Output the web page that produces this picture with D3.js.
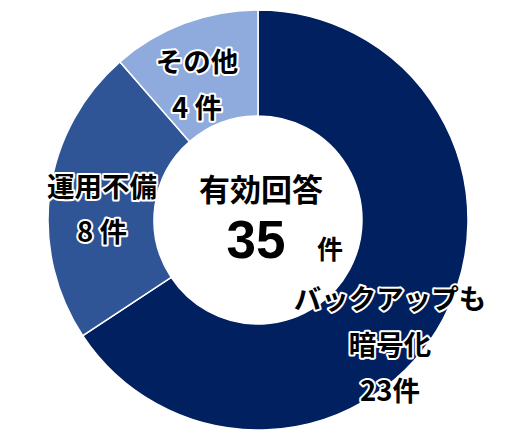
<!DOCTYPE html>
<html>
<head>
<meta charset="utf-8">
<script src="https://cdn.jsdelivr.net/npm/d3@7"></script>
<style>
  body { margin: 0; background: #fff; }
  text { font-family: "Noto Sans CJK JP", "Noto Sans", sans-serif; }
</style>
</head>
<body>
<div id="chart"></div>
<script>
// data
const categories = ["バックアップも暗号化", "運用不備", "その他"];
const values = [23, 8, 4];
const colors = ["#002060", "#2F5597", "#8FAADC"];
const totalLabel = "有効回答";

const width = 517, height = 443;
const cx = 258, cy = 220;
const outerR = 210, innerR = 104;

const svg = d3.select("#chart").append("svg")
  .attr("width", width)
  .attr("height", height);

const g = svg.append("g").attr("transform", `translate(${cx},${cy})`);

const pie = d3.pie().sort(null).value(d => d);
const arc = d3.arc().innerRadius(innerR).outerRadius(outerR);

g.selectAll("path")
  .data(pie(values))
  .enter()
  .append("path")
    .attr("d", arc)
    .attr("fill", (d, i) => colors[i])
    .attr("stroke", "white")
    .attr("stroke-width", 1.5);

// slice labels (lines of text, with a white halo)
const labelLines = [
  ["バックアップも", "暗号化", values[0] + "件"],
  ["運用不備", values[1] + " 件"],
  ["その他", values[2] + " 件"]
];
const labelPos = [
  { x: 390, y: 297, dy: 46 },
  { x: 102, y: 185, dy: 45 },
  { x: 197, y: 60, dy: 46 }
];

labelLines.forEach((lines, i) => {
  lines.forEach((t, j) => {
    svg.append("text")
      .attr("x", labelPos[i].x)
      .attr("y", labelPos[i].y + j * labelPos[i].dy)
      .attr("text-anchor", "middle")
      .attr("dominant-baseline", "central")
      .attr("font-size", "27.5px")
      .attr("font-weight", "bold")
      .attr("fill", "black")
      .attr("stroke", "white")
      .attr("stroke-width", 4)
      .attr("stroke-linejoin", "round")
      .attr("paint-order", "stroke")
      .text(t);
  });
});

// centre text
svg.append("text")
  .attr("x", 261).attr("y", 201)
  .attr("text-anchor", "middle")
  .attr("font-size", "31px")
  .attr("font-weight", "bold")
  .text(totalLabel);

svg.append("text")
  .attr("x", 256).attr("y", 258)
  .attr("text-anchor", "middle")
  .style("font-family", "'Liberation Sans', Arial, sans-serif")
  .attr("font-size", "53px")
  .attr("font-weight", "bold")
  .text(d3.sum(values));

svg.append("text")
  .attr("x", 330).attr("y", 247)
  .attr("text-anchor", "middle")
  .attr("dominant-baseline", "central")
  .attr("font-size", "26px")
  .attr("font-weight", "bold")
  .text("件");
</script>
</body>
</html>
